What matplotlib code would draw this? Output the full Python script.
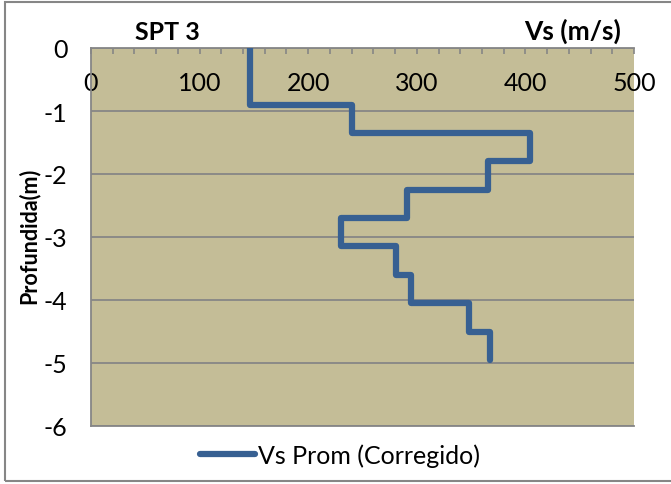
import matplotlib.pyplot as plt
import matplotlib.patches as patches
import numpy as np

plt.rcParams['font.family'] = ['Lato', 'DejaVu Sans']

# Vs per layer and layer boundaries (m)
vs = [146, 240, 404, 366, 291, 230, 281, 295, 348, 367]
depths = [0, -0.9, -1.35, -1.8, -2.25, -2.7, -3.15, -3.6, -4.05, -4.5, -4.95]
x_ticks = [0, 100, 200, 300, 400, 500]
y_ticks = [0, -1, -2, -3, -4, -5, -6]

# step profile
x = np.repeat(vs, 2)
y = np.repeat(depths, 2)[1:-1]

fs = 18

fig = plt.figure(figsize=(6.71, 4.85), dpi=100)
ax = fig.add_axes([91/671, 1-427/485, (634-91)/671, (427-49)/485])
ax.set_facecolor('#C4BD97')

ax.plot(x, y, color='#376092', lw=4.5, solid_joinstyle='round',
        solid_capstyle='round', label='Vs Prom (Corregido)', zorder=3)

ax.set_xlim(0, 500)
ax.set_ylim(-6, 0)
ax.set_xticks(x_ticks)
ax.set_xticks(np.arange(0, 501, 20), minor=True)
ax.set_yticks(y_ticks)
ax.set_yticklabels([str(v) for v in y_ticks])

ax.tick_params(axis='x', which='both', top=True, bottom=False, labeltop=True,
               labelbottom=False, direction='in', length=4, color='#868686',
               width=1.2)
ax.tick_params(axis='x', which='major', pad=-33, labelsize=fs)
ax.tick_params(axis='y', length=0, pad=17, labelsize=fs)

ax.grid(axis='y', color='#868686', lw=1.3)
ax.set_axisbelow(True)
for s in ['left', 'top', 'bottom']:
    ax.spines[s].set_color('#868686')
    ax.spines[s].set_linewidth(1.3)
ax.spines['right'].set_visible(False)

fig.text(135/671, 1-40/485, 'SPT 3', fontsize=fs, fontweight='bold',
         ha='left', va='baseline')
fig.text(621/671, 1-40/485, 'Vs (m/s)', fontsize=fs + 1, fontweight='bold',
         ha='right', va='baseline')
fig.text(29/671, 1-236/485, 'Profundida(m)', fontsize=15.5, fontweight='bold',
         rotation=90, ha='center', va='center')

ax.legend(loc='center', bbox_to_anchor=(340/671, 1-456/485),
          bbox_transform=fig.transFigure, frameon=False, fontsize=fs,
          handlelength=2.2, handletextpad=0.1)

fig.patches.append(patches.Rectangle((5/671, 1-482/485), 1.0, (482-3)/485,
                                     transform=fig.transFigure, fill=False,
                                     edgecolor='#868686', lw=1.5))

fig.savefig('out.png', dpi=100)
